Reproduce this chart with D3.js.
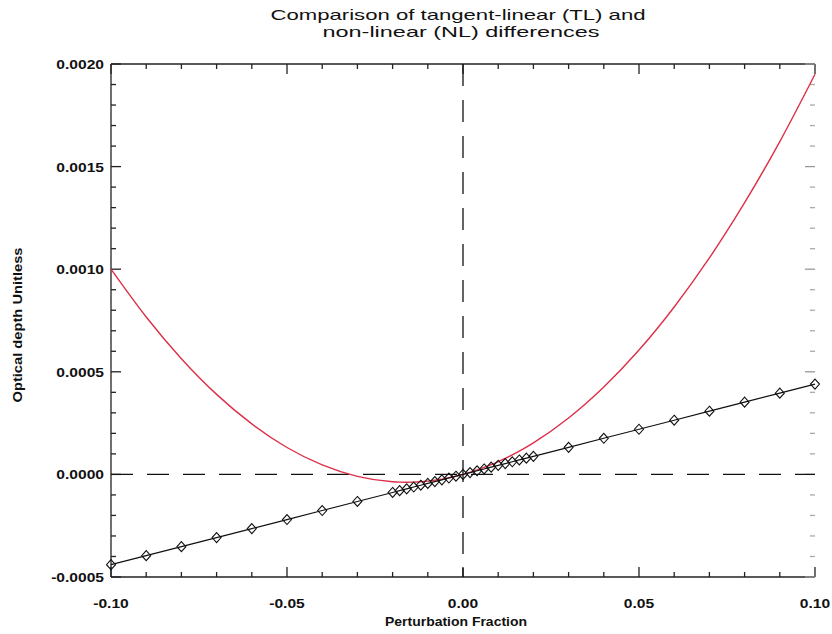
<!DOCTYPE html>
<html>
<head>
<meta charset="utf-8">
<script src="https://cdn.jsdelivr.net/npm/d3@7"></script>
<style>
  body { margin: 0; background: #fff; }
  text { font-family: "Liberation Sans", Arial, sans-serif; fill: #111; }
</style>
</head>
<body>
<svg id="chart" width="832" height="634"></svg>
<script>
// perturbation fractions (denser sampling near zero)
const xValues = [-0.10, -0.09, -0.08, -0.07, -0.06, -0.05, -0.04, -0.03, -0.02,
  -0.018, -0.016, -0.014, -0.012, -0.010, -0.008, -0.006, -0.004, -0.002, 0.0,
  0.002, 0.004, 0.006, 0.008, 0.010, 0.012, 0.014, 0.016, 0.018, 0.02,
  0.03, 0.04, 0.05, 0.06, 0.07, 0.08, 0.09, 0.10];

// non-linear difference (red curve)
const nlValues = [0.00100, 0.000767, 0.000564, 0.000390, 0.000246, 0.000131, 0.000046, -0.0000098, -0.000036,
  -0.0000377, -0.0000382, -0.0000376, -0.0000358, -0.0000328, -0.0000286, -0.0000232, -0.0000166, -0.0000089, 0.0,
  0.0000101, 0.0000214, 0.0000338, 0.0000474, 0.0000623, 0.0000782, 0.0000954, 0.0001138, 0.0001333, 0.000154,
  0.000275, 0.000426, 0.000606, 0.000816, 0.001055, 0.001324, 0.001622, 0.00195];

// tangent-linear difference (black line with diamonds)
const tlValues = [-0.00044, -0.000396, -0.000352, -0.000308, -0.000264, -0.00022, -0.000176, -0.000132, -0.000088,
  -0.0000792, -0.0000704, -0.0000616, -0.0000528, -0.000044, -0.0000352, -0.0000264, -0.0000176, -0.0000088, 0.0,
  0.0000088, 0.0000176, 0.0000264, 0.0000352, 0.000044, 0.0000528, 0.0000616, 0.0000704, 0.0000792, 0.000088,
  0.000132, 0.000176, 0.00022, 0.000264, 0.000308, 0.000352, 0.000396, 0.00044];

const xTicks = [-0.10, -0.05, 0.00, 0.05, 0.10];
const xTickLabels = ["-0.10", "-0.05", "0.00", "0.05", "0.10"];
const yTicks = [-0.0005, 0.0000, 0.0005, 0.0010, 0.0015, 0.0020];
const yTickLabels = ["-0.0005", "0.0000", "0.0005", "0.0010", "0.0015", "0.0020"];

const titleLines = ["Comparison of tangent-linear (TL) and", "non-linear (NL) differences"];
const xTitle = "Perturbation Fraction";
const yTitle = "Optical depth Unitless";

const margin = {left: 111, right: 17, top: 64, bottom: 57};
const width = 832, height = 634;

const svg = d3.select("#chart");

const x = d3.scaleLinear().domain([-0.1, 0.1]).range([margin.left, width - margin.right]);
const y = d3.scaleLinear().domain([-0.0005, 0.0020]).range([height - margin.bottom, margin.top]);

const x0 = x.range()[0], x1 = x.range()[1];
const yb = y.range()[0], yt = y.range()[1];

// minor tick positions
const xMinor = d3.range(-10, 11).map(i => i / 100).filter(v => !xTicks.some(t => Math.abs(t - v) < 1e-9));
const yMinor = d3.range(-5, 21).map(i => i / 10000).filter(v => !yTicks.some(t => Math.abs(t - v) < 1e-9));

const axes = svg.append("g").attr("stroke", "#222").attr("stroke-width", 1.3);

// box lines (right side has no line, only faint ticks)
axes.append("line").attr("x1", x0).attr("x2", x1).attr("y1", yb).attr("y2", yb);
axes.append("line").attr("x1", x0).attr("x2", x1).attr("y1", yt).attr("y2", yt);
axes.append("line").attr("x1", x0).attr("x2", x0).attr("y1", yt).attr("y2", yb);

// x ticks, bottom and top, pointing inward
xTicks.forEach(v => {
  axes.append("line").attr("x1", x(v)).attr("x2", x(v)).attr("y1", yb).attr("y2", yb - 10);
  axes.append("line").attr("x1", x(v)).attr("x2", x(v)).attr("y1", yt).attr("y2", yt + 10);
});
xMinor.forEach(v => {
  axes.append("line").attr("x1", x(v)).attr("x2", x(v)).attr("y1", yb).attr("y2", yb - 5);
  axes.append("line").attr("x1", x(v)).attr("x2", x(v)).attr("y1", yt).attr("y2", yt + 5);
});

// y ticks, left solid, right faint
yTicks.forEach(v => {
  axes.append("line").attr("x1", x0).attr("x2", x0 + 10).attr("y1", y(v)).attr("y2", y(v));
  axes.append("line").attr("x1", x1).attr("x2", x1 - 10).attr("y1", y(v)).attr("y2", y(v))
    .attr("stroke", "#999");
});
yMinor.forEach(v => {
  axes.append("line").attr("x1", x0).attr("x2", x0 + 5).attr("y1", y(v)).attr("y2", y(v));
  axes.append("line").attr("x1", x1).attr("x2", x1 - 5).attr("y1", y(v)).attr("y2", y(v))
    .attr("stroke", "#aaa");
});

// tick labels (glyphs are wide in the original, so stretch them a bit)
svg.append("g").selectAll("text")
  .data(xTicks)
  .enter()
  .append("text")
  .attr("transform", d => `translate(${x(d)},${yb + 31}) scale(1.2,1)`)
  .attr("text-anchor", "middle")
  .style("font-size", "13px")
  .style("font-weight", "bold")
  .text((d, i) => xTickLabels[i]);

svg.append("g").selectAll("text")
  .data(yTicks)
  .enter()
  .append("text")
  .attr("transform", d => `translate(${x0 - 7},${y(d) + 5}) scale(1.2,1)`)
  .attr("text-anchor", "end")
  .style("font-size", "13px")
  .style("font-weight", "bold")
  .text((d, i) => yTickLabels[i]);

// zero reference lines, long dashes
svg.append("line")
  .attr("x1", x0).attr("x2", x1).attr("y1", y(0)).attr("y2", y(0))
  .attr("stroke", "#111").attr("stroke-width", 1.3).attr("stroke-dasharray", "22,14");
svg.append("line")
  .attr("x1", x(0)).attr("x2", x(0)).attr("y1", yt).attr("y2", yb)
  .attr("stroke", "#111").attr("stroke-width", 1.3).attr("stroke-dasharray", "22,14");

const nlData = xValues.map((v, i) => [v, nlValues[i]]);
const tlData = xValues.map((v, i) => [v, tlValues[i]]);

const plotArea = svg.append("g");

// NL curve
plotArea.append("path")
  .datum(nlData)
  .attr("fill", "none")
  .attr("stroke", "#dc3048")
  .attr("stroke-width", 1.4)
  .attr("d", d3.line().curve(d3.curveMonotoneX).x(d => x(d[0])).y(d => y(d[1])));

// TL line
plotArea.append("path")
  .datum(tlData)
  .attr("fill", "none")
  .attr("stroke", "#111")
  .attr("stroke-width", 1.2)
  .attr("d", d3.line().x(d => x(d[0])).y(d => y(d[1])));

// diamond markers
plotArea.selectAll(".diamond")
  .data(tlData)
  .enter()
  .append("path")
  .classed("diamond", true)
  .attr("transform", d => `translate(${x(d[0])},${y(d[1])})`)
  .attr("d", "M0,-5L4.5,0L0,5L-4.5,0Z")
  .attr("fill", "none")
  .attr("stroke", "#111")
  .attr("stroke-width", 1.1);

// titles
const titleWidths = [375, 277];
svg.append("g").selectAll("text")
  .data(titleLines)
  .enter()
  .append("text")
  .attr("x", (d, i) => i === 0 ? 458 : 461)
  .attr("y", (d, i) => 20 + i * 17)
  .attr("text-anchor", "middle")
  .attr("textLength", (d, i) => titleWidths[i])
  .attr("lengthAdjust", "spacingAndGlyphs")
  .style("font-size", "15px")
  .text(d => d);

svg.append("text")
  .attr("x", 456)
  .attr("y", yb + 49)
  .attr("text-anchor", "middle")
  .attr("textLength", 142)
  .attr("lengthAdjust", "spacingAndGlyphs")
  .style("font-size", "13px")
  .style("font-weight", "bold")
  .text(xTitle);

svg.append("text")
  .attr("transform", `translate(22,325) rotate(-90)`)
  .attr("text-anchor", "middle")
  .attr("textLength", 155)
  .attr("lengthAdjust", "spacingAndGlyphs")
  .style("font-size", "13px")
  .style("font-weight", "bold")
  .text(yTitle);
</script>
</body>
</html>
